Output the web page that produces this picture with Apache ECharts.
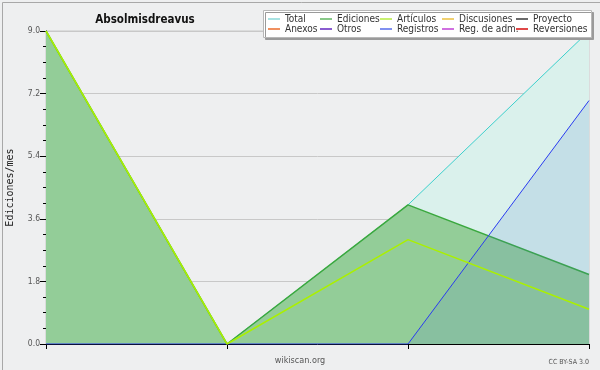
<!DOCTYPE html>
<html>
<head>
<meta charset="utf-8">
<script src="https://cdn.jsdelivr.net/npm/echarts@6/dist/echarts.min.js"></script>
<style>html,body{margin:0;padding:0;background:#eeeff0;}#c{width:600px;height:370px;}</style>
</head>
<body>
<div id="c"></div>
<script>
var categories = ['P1', 'P2', 'P3', 'P4'];
var total = [9, 0, 4, 9];
var ediciones = [9, 0, 4, 2];
var articulos = [9, 0, 3, 1];
var registros = [0, 0, 0, 7];
var emptySeries = ['Discusiones', 'Proyecto', 'Anexos', 'Otros', 'Reg. de adm.', 'Reversiones'];
var yTicks = [0, 1.8, 3.6, 5.4, 7.2, 9.0];
var legendColumns = [
  ['Total', 'Anexos'],
  ['Ediciones', 'Otros'],
  ['Artículos', 'Registros'],
  ['Discusiones', 'Reg. de adm.'],
  ['Proyecto', 'Reversiones']
];
var legendColors = {
  'Total': '#a8e2e2', 'Ediciones': '#88c888', 'Artículos': '#c8f070', 'Discusiones': '#f0d070',
  'Proyecto': '#6a6a6a', 'Anexos': '#f09060', 'Otros': '#8a5cd0', 'Registros': '#8090f0',
  'Reg. de adm.': '#d070e0', 'Reversiones': '#e04848'
};
var legendLefts = [268, 320, 380, 442, 516];

var chart = echarts.init(document.getElementById('c'), null, {renderer: 'canvas'});
var FONT = 'DejaVu Sans Condensed';

var series = [
  {name: 'Total', type: 'line', data: total, symbol: 'none', z: 2,
   lineStyle: {color: '#3cd0cc', width: 1}, itemStyle: {color: '#3cd0cc'},
   areaStyle: {color: '#daf1ec', opacity: 1}},
  {name: 'Ediciones', type: 'line', data: ediciones, symbol: 'none', z: 3,
   lineStyle: {color: '#3aa83e', width: 1.5}, itemStyle: {color: '#3aa83e'},
   areaStyle: {color: '#93cd98', opacity: 1}},
  {name: 'Registros', type: 'line', data: registros, symbol: 'none', z: 4,
   lineStyle: {color: '#2a3cf0', width: 1}, itemStyle: {color: '#2a3cf0'},
   areaStyle: {color: 'rgb(71,121,209)', opacity: 0.15}},
  {name: 'Artículos', type: 'line', data: articulos, symbol: 'none', z: 5,
   lineStyle: {color: '#aaf000', width: 1.5}, itemStyle: {color: '#aaf000'}}
];
emptySeries.forEach(function (n) {
  series.push({name: n, type: 'line', data: [], symbol: 'none', itemStyle: {color: legendColors[n]}});
});

var legends = legendColumns.map(function (col, i) {
  return {
    orient: 'vertical', left: legendLefts[i], top: 14, padding: 0, itemGap: 0,
    itemWidth: 12, itemHeight: 2, icon: 'rect', selectedMode: false, z: 20,
    textStyle: {fontFamily: FONT, fontSize: 10, color: '#333', lineHeight: 10},
    data: col.map(function (n) { return {name: n, icon: 'rect', itemStyle: {color: legendColors[n]}}; })
  };
});

chart.setOption({
  animation: false,
  backgroundColor: '#eeeff0',
  title: {text: 'Absolmisdreavus', left: 140, top: 9, textAlign: 'center',
    textStyle: {fontFamily: FONT, fontWeight: 'bold', fontSize: 11.5, color: '#111'}},
  legend: legends,
  grid: {left: 46, right: 11, top: 31, bottom: 26, containLabel: false, outerBoundsMode: 'none',
    show: true, borderColor: '#c8c8c8', borderWidth: 1, backgroundColor: 'transparent'},
  xAxis: {type: 'category', data: categories, boundaryGap: false,
    axisLine: {lineStyle: {color: '#000', width: 1}},
    axisTick: {show: true, length: 5, alignWithLabel: true, lineStyle: {color: '#000'}},
    axisLabel: {show: false}, splitLine: {show: false}},
  yAxis: {type: 'value', min: 0, max: 9, interval: 1.8,
    name: 'Ediciones/mes', nameLocation: 'middle', nameGap: 31, nameRotate: 90,
    nameTextStyle: {fontFamily: 'DejaVu Sans Mono', fontSize: 10, color: '#222'},
    axisLine: {show: true, lineStyle: {color: '#000', width: 1}},
    axisTick: {show: true, length: 6, lineStyle: {color: '#000'}},
    minorTick: {show: true, splitNumber: 4, length: 3, lineStyle: {color: '#000'}},
    axisLabel: {fontFamily: FONT, fontSize: 8.5, color: '#555', margin: 6,
      formatter: function (v) { return v.toFixed(1); }},
    splitLine: {show: true, lineStyle: {color: '#c8c8c8', width: 1}}},
  graphic: [
    {type: 'rect', left: 0, top: 0, z: 0, silent: true,
     shape: {x: 0.5, y: 0.5, width: 599, height: 369},
     style: {fill: 'none', stroke: '#a8a8a8', lineWidth: 1}},
    {type: 'rect', z: 15, silent: true, shape: {x: 263.5, y: 10.5, width: 328, height: 27},
     style: {fill: '#ffffff', stroke: '#b8b8b8', lineWidth: 1, shadowColor: '#9a9a9a', shadowOffsetX: 2, shadowOffsetY: 2, shadowBlur: 0}},
    {type: 'text', z: 5, silent: true, style: {text: 'wikiscan.org', x: 300, y: 361, textAlign: 'center', textVerticalAlign: 'middle',
      font: '9px "DejaVu Sans Condensed"', fill: '#555'}},
    {type: 'text', z: 5, silent: true, style: {text: 'CC BY-SA 3.0', x: 589, y: 362, textAlign: 'right', textVerticalAlign: 'middle',
      font: '7px "DejaVu Sans Condensed"', fill: '#555'}}
  ],
  series: series
});
</script>
</body>
</html>
